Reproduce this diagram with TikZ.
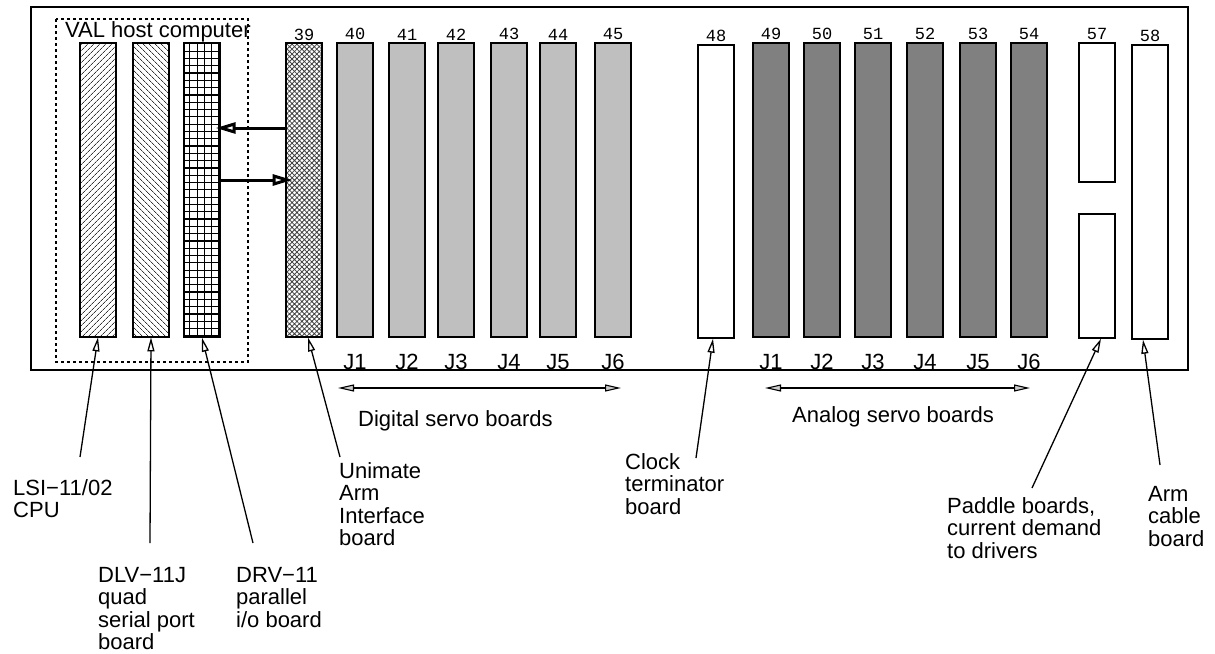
\documentclass[tikz,border=0pt]{standalone}
\usepackage{fontspec}
\setmainfont{Liberation Sans}
\setmonofont{Liberation Mono}
\usetikzlibrary{arrows.meta,patterns.meta}

\begin{document}
\begin{tikzpicture}[
  x=1pt,y=-1pt,
  board/.style={draw,line width=1.4pt,minimum width=36pt,minimum height=294pt,inner sep=0pt},
  num/.style={font=\fontsize{17}{17}\selectfont\ttfamily,inner sep=0pt,label distance=2pt},
  jlab/.style={font=\fontsize{22}{22}\selectfont,inner sep=0pt,label distance=16pt},
  txt/.style={font=\fontsize{22}{22.5}\selectfont,align=left,anchor=north west,inner sep=0pt},
  ptr/.style={-{Triangle[fill=white,length=14pt,width=7pt]},line width=1.3pt},
  bus/.style={-{Triangle[fill=white,length=20pt,width=11pt]},line width=3pt},
  span/.style={{Triangle[fill=gray!40,length=16pt,width=7pt]}-{Triangle[fill=gray!40,length=16pt,width=7pt]},line width=1.1pt}
]
  \useasboundingbox (0,0) rectangle (1215,653);
  \draw[line width=1.5pt] (31,7) rectangle (1188,370);
  \draw[dashed,dash pattern=on 3pt off 3pt,line width=1.2pt] (56,19) rectangle (248,362);
  \node[txt] (host) at (65,21) {VAL host computer};

  \node[board,pattern={Lines[angle=45,distance=4pt,line width=.7pt]},pattern color=black!80] (b1) at (98,190) {};
  \node[board,pattern={Lines[angle=-45,distance=4pt,line width=.7pt]},pattern color=black!80] (b2) at (151,190) {};
  \node[board] (b3) at (202,190) {};
  \begin{scope}
    \clip (b3.south west) rectangle (b3.north east);
    \draw[line width=1.2pt] (b3.south west) grid[xstep=7.3pt,ystep=7.3pt] (b3.north east);
  \end{scope}
  \node[board,pattern={Hatch[angle=45,distance=3.5pt,line width=.8pt]},pattern color=black!75,
        label={[num]above:39}] (s39) at (304,190) {};

  \foreach \x/\n/\j in {355/40/J1,407/41/J2,456/42/J3,509/43/J4,558/44/J5,613/45/J6}
    \node[board,fill=gray!50,label={[num]above:\n},label={[jlab]below:\j}] (s\n) at (\x,190) {};
  \foreach \x/\n/\j in {771/49/J1,822/50/J2,873/51/J3,925/52/J4,978/53/J5,1029/54/J6}
    \node[board,fill=gray,label={[num]above:\n},label={[jlab]below:\j}] (s\n) at (\x,190) {};

  \node[board,minimum height=293pt,label={[num]above:48}] (s48) at (716,191.5) {};
  \node[board,minimum height=139pt,label={[num]above:57}] (s57a) at (1097,112.5) {};
  \node[board,minimum height=124pt] (s57b) at (1097,276) {};
  \node[board,minimum height=294pt,label={[num]above:58}] (s58) at (1150,192) {};

  \draw[bus] ([yshift=62pt]s39.west) -- ([xshift=-5pt,yshift=62pt]b3.east);
  \draw[bus] ([yshift=10pt]b3.east) -- ([xshift=7pt,yshift=10pt]s39.west);

  \coordinate (dl) at (338,388);
  \coordinate (dr) at (621,388);
  \coordinate (al) at (765,388);
  \coordinate (ar) at (1030,388);
  \draw[span] (dl) -- (dr);
  \draw[span] (al) -- (ar);
  \node[txt] (dig) at (358,410) {Digital servo boards};
  \node[txt] (ana) at (792,406) {Analog servo boards};

  \node[txt] (cpu) at (13,479) {LSI−11/02\\CPU};
  \node[txt] (dlv) at (98,567) {DLV−11J\\quad\\serial port\\board};
  \node[txt] (drv) at (236,567) {DRV−11\\parallel\\i/o board};
  \node[txt] (uai) at (339,462) {Unimate\\Arm\\Interface\\board};
  \node[txt] (clk) at (625,453) {Clock\\terminator\\board};
  \node[txt] (pad) at (947,497) {Paddle boards,\\current demand\\to drivers};
  \node[txt] (arm) at (1148,486) {Arm\\cable\\board};

  \draw[ptr] ([xshift=67pt,yshift=22pt]cpu.north west) -- (b1.south);
  \draw[ptr] ([xshift=52pt,yshift=24pt]dlv.north west) -- (b2.south);
  \draw[ptr] ([xshift=17pt,yshift=24pt]drv.north west) -- (b3.south);
  \draw[ptr] ([xshift=1pt,yshift=5pt]uai.north west) -- ([xshift=4pt]s39.south);
  \draw[ptr] ([xshift=71pt,yshift=-5pt]clk.north west) -- ([xshift=-3pt]s48.south);
  \draw[ptr] ([xshift=85pt,yshift=9pt]pad.north west) -- ([xshift=4pt]s57b.south);
  \draw[ptr] ([xshift=12pt,yshift=21pt]arm.north west) -- ([xshift=-7pt]s58.south);
\end{tikzpicture}
\end{document}
